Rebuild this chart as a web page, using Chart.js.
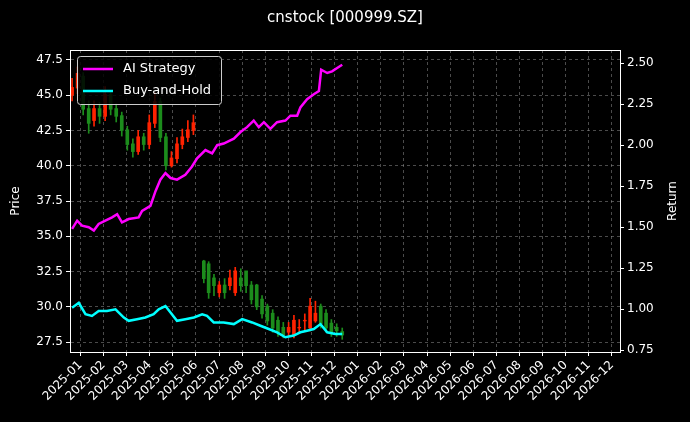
<!DOCTYPE html>
<html><head><meta charset="utf-8">
<script src="https://cdn.jsdelivr.net/npm/chart.js@4"></script>
<style>html,body{margin:0;background:#000}#w{width:690px;height:422px}</style>
</head><body><div id="w"><canvas id="c"></canvas></div>
<script>
const monthLabels=["2025-01","2025-02","2025-03","2025-04","2025-05","2025-06","2025-07","2025-08","2025-09","2025-10","2025-11","2025-12","2026-01","2026-02","2026-03","2026-04","2026-05","2026-06","2026-07","2026-08","2026-09","2026-10","2026-11","2026-12"];
// candle positions in months since 2025-01-01
const candleT=[-0.36,-0.12,0.12,0.36,0.59,0.83,1.07,1.31,1.55,1.79,2.03,2.27,2.50,2.74,2.98,3.22,3.46,3.70,3.94,4.18,4.41,4.65,4.89,5.34,5.55,5.78,6.01,6.24,6.47,6.70,6.94,7.17,7.40,7.63,7.86,8.09,8.32,8.55,8.78,9.01,9.24,9.47,9.71,9.94,10.17,10.40,10.63,10.86,11.09,11.33];
const candleOpen=[45.0,45.5,46.3,44.0,43.2,44.0,43.5,45.0,44.0,43.5,42.5,41.5,41.0,42.0,41.5,43.0,44.5,42.0,40.0,40.5,41.5,42.0,42.5,33.2,33.0,32.0,31.0,31.5,31.5,31.0,32.0,32.5,31.5,31.5,30.5,30.0,29.5,29.0,28.5,28.2,28.0,28.5,29.0,28.5,29.0,30.0,29.5,28.8,28.5,28.2];
const candleClose=[45.5,46.5,44.0,43.0,44.0,43.5,45.0,44.0,43.5,42.5,41.5,41.0,42.0,41.5,43.0,44.5,42.0,40.0,40.5,41.5,42.0,42.5,43.0,32.0,31.0,31.5,31.5,31.0,32.0,32.5,31.5,31.5,30.5,30.0,29.5,29.0,28.5,28.2,28.0,28.5,29.0,28.5,29.0,30.0,29.5,28.8,28.5,28.2,28.3,28.0];
const candleHigh=[46.2,47.0,46.6,44.6,44.6,44.5,45.6,45.3,44.4,43.8,42.8,41.9,42.5,42.3,43.6,45.2,44.8,42.3,41.0,42.0,42.6,43.2,43.6,33.3,33.2,32.3,31.8,32.0,32.6,32.8,32.7,32.0,31.8,31.6,30.8,30.2,29.8,29.3,28.9,28.9,29.4,29.1,29.5,30.6,30.4,30.2,29.8,29.1,28.8,28.5];
const candleLow=[44.6,45.1,43.6,42.3,42.8,43.0,43.2,43.6,43.1,42.1,41.1,40.6,40.8,41.1,41.2,42.7,41.7,39.7,39.9,40.2,41.2,41.7,42.2,31.7,30.6,30.8,30.7,30.6,31.2,30.8,31.1,31.0,30.2,29.8,29.2,28.7,28.2,27.9,27.8,27.9,27.8,28.2,28.3,28.3,28.9,28.5,28.2,27.9,27.9,27.7];
const stratT=[-0.36,-0.14,0.07,0.36,0.58,0.79,1.08,1.37,1.59,1.80,2.09,2.52,2.67,3.03,3.25,3.46,3.68,3.90,4.18,4.54,4.83,5.05,5.41,5.70,5.92,6.20,6.64,6.93,7.21,7.50,7.72,7.94,8.22,8.51,8.87,9.09,9.38,9.52,9.81,10.10,10.32,10.42,10.68,10.89,11.11,11.33];
const stratRet=[1.49,1.54,1.51,1.50,1.48,1.52,1.54,1.56,1.58,1.53,1.55,1.56,1.60,1.63,1.72,1.79,1.83,1.80,1.79,1.82,1.87,1.92,1.97,1.95,2.00,2.01,2.04,2.08,2.11,2.15,2.11,2.14,2.10,2.14,2.15,2.18,2.18,2.23,2.28,2.31,2.33,2.46,2.44,2.45,2.47,2.49];
const bhT=[-0.36,-0.07,0.22,0.50,0.79,1.15,1.52,1.88,2.09,2.45,2.81,3.17,3.39,3.68,3.90,4.18,4.54,4.91,5.27,5.48,5.77,6.20,6.64,7.00,7.43,7.79,8.15,8.51,8.87,9.23,9.52,9.81,10.10,10.39,10.68,11.03,11.33];
const bhRet=[1.01,1.04,0.97,0.96,0.99,0.99,1.00,0.95,0.93,0.94,0.95,0.97,1.00,1.02,0.98,0.93,0.94,0.95,0.97,0.96,0.92,0.92,0.91,0.94,0.92,0.90,0.88,0.86,0.83,0.84,0.86,0.87,0.88,0.91,0.86,0.85,0.85];

const UP='#ff2200', DN='#1c8c1c';
const cols=candleT.map((t,i)=>candleClose[i]>=candleOpen[i]?UP:DN);
const wick=candleT.map((t,i)=>({x:t,y:[candleLow[i],candleHigh[i]]}));
const body=candleT.map((t,i)=>({x:t,y:[Math.min(candleOpen[i],candleClose[i]),Math.max(candleOpen[i],candleClose[i])+0.05]}));

const deco={id:'deco',
 afterDraw(ch){const c=ch.ctx,a=ch.chartArea;c.save();
  c.fillStyle='#fff';c.font='15px "DejaVu Sans"';c.textAlign='center';c.textBaseline='middle';
  c.fillText('cnstock [000999.SZ]',345,18);
  c.font='12px "DejaVu Sans"';
  c.save();c.translate(16,(a.top+a.bottom)/2);c.rotate(-Math.PI/2);c.fillText('Price',0,0);c.restore();
  c.save();c.translate(673,(a.top+a.bottom)/2);c.rotate(-Math.PI/2);c.fillText('Return',0,0);c.restore();
  c.strokeStyle='#fff';c.lineWidth=1;c.strokeRect(a.left+0.5,a.top+0.5,a.right-a.left,a.bottom-a.top);
  const x=a.left+7,y=a.top+6,w=144,h=48;
  c.fillStyle='rgba(0,0,0,0.85)';c.strokeStyle='#ccc';c.beginPath();
  c.roundRect(x+0.5,y+0.5,w,h,3);c.fill();c.stroke();
  c.font='13px "DejaVu Sans"';c.textAlign='left';c.lineWidth=2.5;
  [['AI Strategy','#ff00ff'],['Buy-and-Hold','#00ffff']].forEach((it,i)=>{const yy=y+13+i*22;
   c.strokeStyle=it[1];c.beginPath();c.moveTo(x+6,yy);c.lineTo(x+36,yy);c.stroke();
   c.fillStyle='#fff';c.fillText(it[0],x+46,yy);});
  c.restore();}};

new Chart(document.getElementById('c'),{
 data:{datasets:[
  {type:'bar',data:wick,backgroundColor:cols,barThickness:1,grouped:false,yAxisID:'y',order:3},
  {type:'bar',data:body,backgroundColor:cols,barThickness:3,grouped:false,yAxisID:'y',order:2},
  {type:'line',data:stratT.map((t,i)=>({x:t,y:stratRet[i]})),borderColor:'#ff00ff',borderWidth:2.5,pointRadius:0,yAxisID:'y2',order:1},
  {type:'line',data:bhT.map((t,i)=>({x:t,y:bhRet[i]})),borderColor:'#00ffff',borderWidth:2.5,pointRadius:0,yAxisID:'y2',order:0}
 ]},
 options:{responsive:true,maintainAspectRatio:false,animation:false,
  layout:{padding:{top:50,left:0,right:0,bottom:0}},
  plugins:{legend:{display:false},tooltip:{enabled:false}},
  scales:{
   x:{type:'linear',offset:false,min:-0.45,max:23.35,afterFit(s){s.height=70;},
    afterBuildTicks(s){s.ticks=monthLabels.map((l,i)=>({value:i}));},
    ticks:{color:'#fff',font:{size:12,family:'DejaVu Sans'},maxRotation:45,minRotation:45,autoSkip:false,padding:2,callback:(v)=>monthLabels[v]},
    grid:{offset:false,color:'rgba(150,150,150,0.5)',tickColor:'#fff',tickLength:4}, border:{dash:[3,3],color:'#fff'}},
   y:{position:'left',min:26.8,max:48.2,afterFit(s){s.width=70;},
    afterBuildTicks(s){s.ticks=[27.5,30,32.5,35,37.5,40,42.5,45,47.5].map(v=>({value:v}));},
    ticks:{color:'#fff',font:{size:12,family:'DejaVu Sans'},callback:v=>v.toFixed(1)},
    grid:{color:'rgba(150,150,150,0.5)',tickColor:'#fff',tickLength:4}, border:{dash:[3,3],color:'#fff'}},
   y2:{position:'right',min:0.74,max:2.58,afterFit(s){s.width=70;},
    afterBuildTicks(s){s.ticks=[0.75,1,1.25,1.5,1.75,2,2.25,2.5].map(v=>({value:v}));},
    ticks:{color:'#fff',font:{size:12,family:'DejaVu Sans'},callback:v=>v.toFixed(2)},
    grid:{drawOnChartArea:false,tickColor:'#fff',tickLength:4},border:{color:'#fff'}}
  }}, plugins:[deco]});
</script></body></html>
